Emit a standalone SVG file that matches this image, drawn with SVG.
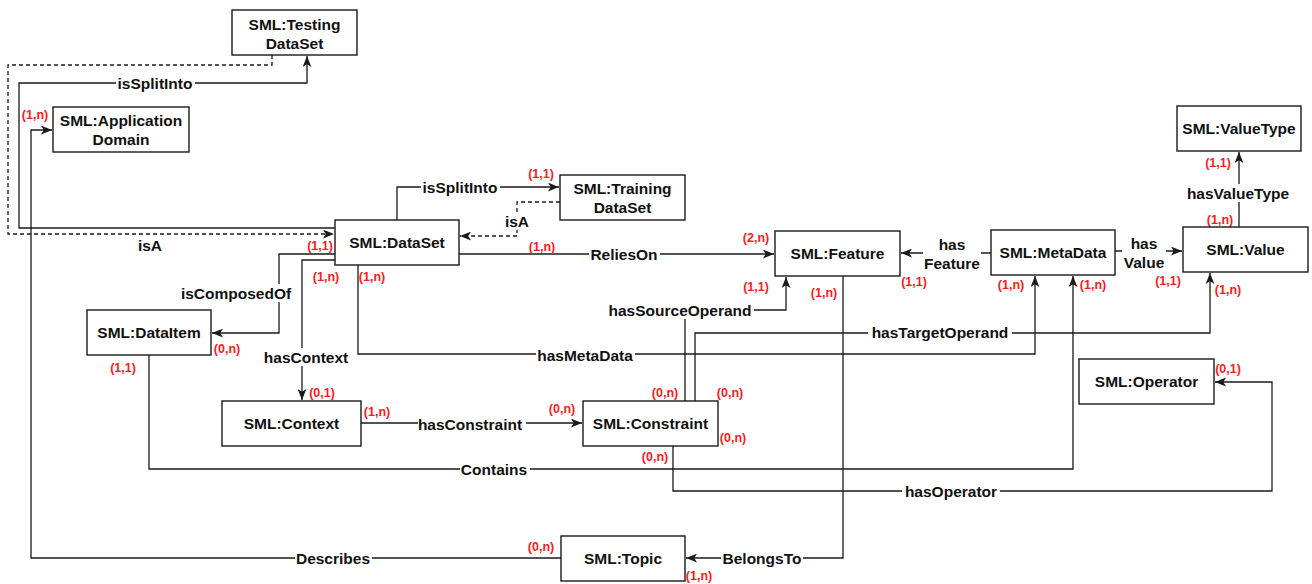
<svg xmlns="http://www.w3.org/2000/svg" width="1312" height="584" viewBox="0 0 1312 584">
  <style>
    .node rect { fill: #ffffff; stroke: #1a1a1a; stroke-width: 1.4; }
    .node text { font-family: "Liberation Sans", Arial, sans-serif; font-weight: bold; font-size: 15.5px; fill: #111; text-anchor: middle; dominant-baseline: central; }
    .edge { fill: none; stroke: #1a1a1a; stroke-width: 1.3; }
    .dash { stroke-dasharray: 4 3; }
    .arrow { marker-end: url(#arr); }
    .lbl rect { fill: #ffffff; stroke: none; }
    .lbl text { font-family: "Liberation Sans", Arial, sans-serif; font-weight: bold; font-size: 15.5px; fill: #111; text-anchor: middle; dominant-baseline: central; }
    .card { font-family: "Liberation Sans", Arial, sans-serif; font-weight: bold; font-size: 12.5px; fill: #ff1a1a; text-anchor: middle; dominant-baseline: central; }
  </style>
  <defs>
    <marker id="arr" viewBox="0 0 10 8" refX="10" refY="4" markerWidth="11" markerHeight="9" markerUnits="userSpaceOnUse" orient="auto">
      <path d="M0,0 L10,4 L0,8 L2.5,4 Z" fill="#1a1a1a"/>
    </marker>
  </defs>
  <rect width="1312" height="584" fill="#ffffff"/>

  <!-- connectors -->
  <g id="connectors">
    <!-- DataSet isSplitInto TestingDataSet -->
    <path class="edge arrow" d="M335,228 H19 V83 H307 V56"/>
    <!-- TestingDataSet isA DataSet -->
    <path class="edge dash arrow" d="M272,55 V65 H8 V234 H334"/>
    <!-- DataSet isSplitInto TrainingDataSet -->
    <path class="edge arrow" d="M397,220 V187 H559"/>
    <!-- TrainingDataSet isA DataSet -->
    <path class="edge dash arrow" d="M560,202 H517 V236 H460"/>
    <!-- DataSet ReliesOn Feature -->
    <path class="edge arrow" d="M459,254 H774"/>
    <!-- DataSet isComposedOf DataItem -->
    <path class="edge arrow" d="M335,254 H279 V333 H212"/>
    <!-- DataSet hasContext Context -->
    <path class="edge arrow" d="M335,260 H302 V400"/>
    <!-- DataSet hasMetaData MetaData -->
    <path class="edge arrow" d="M358,265 V354 H1035 V276"/>
    <!-- Context hasConstraint Constraint -->
    <path class="edge arrow" d="M361,423 H582"/>
    <!-- Constraint hasSourceOperand Feature -->
    <path class="edge arrow" d="M685,401 V310 H786 V277"/>
    <!-- Constraint hasTargetOperand Value -->
    <path class="edge arrow" d="M695,401 V333 H1210 V273"/>
    <!-- DataItem Contains MetaData -->
    <path class="edge arrow" d="M149,355 V469 H1073 V276"/>
    <!-- Constraint hasOperator Operator -->
    <path class="edge arrow" d="M673,446 V491 H1272 V382 H1215"/>
    <!-- MetaData hasFeature Feature -->
    <path class="edge arrow" d="M991,253 H901"/>
    <!-- MetaData hasValue Value -->
    <path class="edge arrow" d="M1115,251 H1182"/>
    <!-- Value hasValueType ValueType -->
    <path class="edge arrow" d="M1239,227 V152"/>
    <!-- Feature BelongsTo Topic -->
    <path class="edge arrow" d="M843,276 V558 H686"/>
    <!-- Topic Describes ApplicationDomain -->
    <path class="edge arrow" d="M561,558 H31 V130 H52"/>

    <!-- connector labels -->
    <g class="lbl"><rect x="116" y="74" width="79" height="18"/><text x="155" y="83">isSplitInto</text></g>
    <g class="lbl"><text x="150" y="245">isA</text></g>
    <g class="lbl"><rect x="421" y="178" width="79" height="18"/><text x="460" y="187">isSplitInto</text></g>
    <g class="lbl"><rect x="503" y="212" width="28" height="18"/><text x="517" y="221">isA</text></g>
    <g class="lbl"><rect x="589" y="245" width="71" height="18"/><text x="624" y="254">ReliesOn</text></g>
    <g class="lbl"><rect x="179" y="284" width="114" height="18"/><text x="236" y="293">isComposedOf</text></g>
    <g class="lbl"><rect x="262" y="348" width="88" height="18"/><text x="306" y="357">hasContext</text></g>
    <g class="lbl"><rect x="536" y="346" width="99" height="18"/><text x="585" y="355">hasMetaData</text></g>
    <g class="lbl"><rect x="418" y="415" width="108" height="18"/><text x="470" y="424">hasConstraint</text></g>
    <g class="lbl"><rect x="607" y="301" width="147" height="18"/><text x="680" y="310">hasSourceOperand</text></g>
    <g class="lbl"><rect x="868" y="323" width="144" height="18"/><text x="940" y="332">hasTargetOperand</text></g>
    <g class="lbl"><rect x="460" y="460" width="70" height="18"/><text x="494" y="469">Contains</text></g>
    <g class="lbl"><rect x="902" y="482" width="98" height="18"/><text x="951" y="491">hasOperator</text></g>
    <g class="lbl"><rect x="923" y="235" width="58" height="37"/><text x="952" y="244">has</text><text x="952" y="263">Feature</text></g>
    <g class="lbl"><rect x="1122" y="234" width="44" height="37"/><text x="1144" y="243">has</text><text x="1144" y="262">Value</text></g>
    <g class="lbl"><rect x="1186" y="184" width="106" height="18"/><text x="1238" y="193">hasValueType</text></g>
    <g class="lbl"><rect x="721" y="549" width="82" height="18"/><text x="762" y="558">BelongsTo</text></g>
    <g class="lbl"><rect x="295" y="549" width="77" height="18"/><text x="333" y="558">Describes</text></g>

    <!-- cardinalities -->
    <text class="card" x="35" y="115">(1,n)</text>
    <text class="card" x="320" y="246">(1,1)</text>
    <text class="card" x="541" y="174">(1,1)</text>
    <text class="card" x="542" y="247">(1,n)</text>
    <text class="card" x="756" y="238">(2,n)</text>
    <text class="card" x="326" y="277">(1,n)</text>
    <text class="card" x="372" y="277">(1,n)</text>
    <text class="card" x="227" y="349">(0,n)</text>
    <text class="card" x="123" y="368">(1,1)</text>
    <text class="card" x="322" y="393">(0,1)</text>
    <text class="card" x="377" y="412">(1,n)</text>
    <text class="card" x="562" y="409">(0,n)</text>
    <text class="card" x="665" y="393">(0,n)</text>
    <text class="card" x="730" y="393">(0,n)</text>
    <text class="card" x="733" y="438">(0,n)</text>
    <text class="card" x="655" y="457">(0,n)</text>
    <text class="card" x="756" y="287">(1,1)</text>
    <text class="card" x="824" y="293">(1,n)</text>
    <text class="card" x="914" y="282">(1,1)</text>
    <text class="card" x="1011" y="285">(1,n)</text>
    <text class="card" x="1093" y="285">(1,n)</text>
    <text class="card" x="1168" y="281">(1,1)</text>
    <text class="card" x="1228" y="290">(1,n)</text>
    <text class="card" x="1220" y="220">(1,n)</text>
    <text class="card" x="1218" y="163">(1,1)</text>
    <text class="card" x="1228" y="369">(0,1)</text>
    <text class="card" x="541" y="547">(0,n)</text>
    <text class="card" x="699" y="576">(1,n)</text>
  </g>

  <!-- nodes -->
  <g id="testing-dataset" class="node"><rect x="232" y="10" width="125" height="45"/><text x="294.5" y="24">SML:Testing</text><text x="294.5" y="43">DataSet</text></g>
  <g id="application-domain" class="node"><rect x="53" y="107" width="136" height="45"/><text x="121" y="120.5">SML:Application</text><text x="121" y="139.5">Domain</text></g>
  <g id="dataset" class="node"><rect x="335" y="220" width="124" height="45"/><text x="397" y="242.5">SML:DataSet</text></g>
  <g id="training-dataset" class="node"><rect x="560" y="175" width="125" height="45"/><text x="622.5" y="188">SML:Training</text><text x="622.5" y="207">DataSet</text></g>
  <g id="dataitem" class="node"><rect x="87" y="310" width="124" height="45"/><text x="149" y="332.5">SML:DataItem</text></g>
  <g id="context" class="node"><rect x="222" y="401" width="139" height="45"/><text x="291.5" y="423.5">SML:Context</text></g>
  <g id="constraint" class="node"><rect x="583" y="401" width="135" height="45"/><text x="650.5" y="423.5">SML:Constraint</text></g>
  <g id="feature" class="node"><rect x="775" y="231" width="125" height="45"/><text x="837.5" y="253.5">SML:Feature</text></g>
  <g id="metadata" class="node"><rect x="991" y="230" width="124" height="45"/><text x="1053" y="252.5">SML:MetaData</text></g>
  <g id="value" class="node"><rect x="1183" y="227" width="125" height="45"/><text x="1245.5" y="249.5">SML:Value</text></g>
  <g id="valuetype" class="node"><rect x="1177" y="106" width="124" height="45"/><text x="1239" y="128.5">SML:ValueType</text></g>
  <g id="operator" class="node"><rect x="1079" y="359" width="135" height="45"/><text x="1146.5" y="381.5">SML:Operator</text></g>
  <g id="topic" class="node"><rect x="561" y="536" width="124" height="45"/><text x="623" y="558.5">SML:Topic</text></g>
</svg>
